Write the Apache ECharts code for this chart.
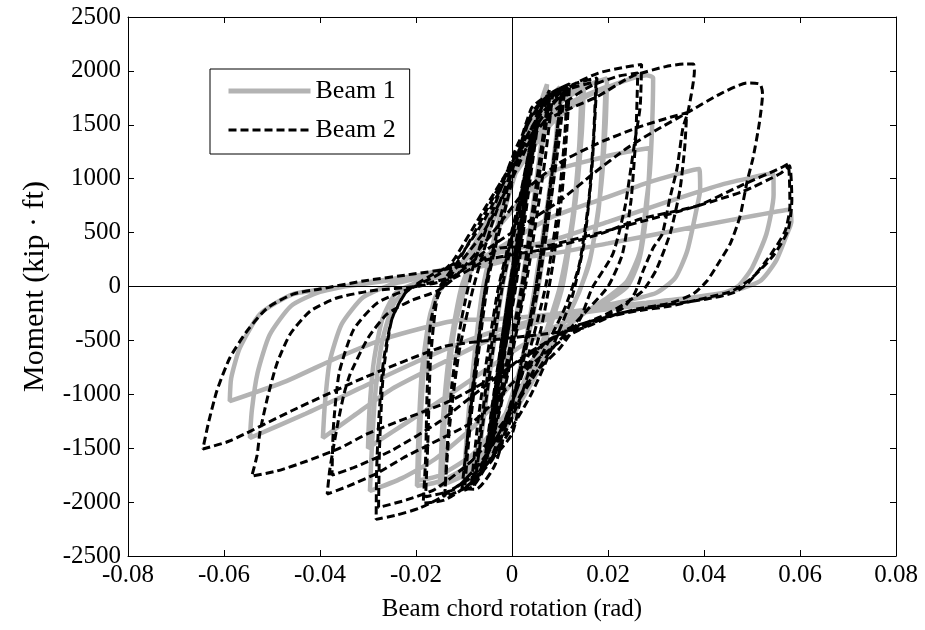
<!DOCTYPE html>
<html>
<head>
<meta charset="utf-8">
<script src="https://cdn.jsdelivr.net/npm/echarts@6/dist/echarts.min.js"></script>
<style>
html,body{margin:0;padding:0;background:#fff;}
#chart{width:925px;height:630px;}
</style>
</head>
<body>
<div id="chart"></div>
<script>
// ---------- tick values ----------
var xTicks = [-0.08, -0.06, -0.04, -0.02, 0, 0.02, 0.04, 0.06, 0.08];
var yTicks = [-2500, -2000, -1500, -1000, -500, 0, 500, 1000, 1500, 2000, 2500];
var seriesNames = ['Beam 1', 'Beam 2'];

// ---------- Beam 1 (rotation rad, moment kip-ft) ----------
var beam1Elastic = [[0,0],[0.0020,650],[0.0037,1150],[0.0022,700],[0.0000,0],[-0.0020,-650],[-0.0037,-1150],[-0.0022,-700],[0.0000,0],
  [0.0030,950],[0.0050,1450],[0.0033,950],[0.0005,0],[-0.0030,-950],[-0.0050,-1450],[-0.0033,-950],[-0.0005,0]];
var beam1Cycle0075 = [[0.0035,1100],[0.0060,1700],[0.0073,1875],[0.0060,1300],[0.0020,0],[-0.0020,-950],[-0.0050,-1550],[-0.0075,-1800],[-0.0060,-1250],[-0.0020,0],
  [0.0030,1000],[0.0060,1650],[0.0075,1820],[0.0060,1200],[0.0020,0],[-0.0020,-900],[-0.0055,-1550],[-0.0075,-1750],[-0.0060,-1150],[-0.0020,0]];
var beam1Cycle010 = [[0.0030,1000],[0.0070,1700],[0.0100,1850],[0.0090,1300],[0.0055,200],[0.0020,-700],[-0.0030,-1400],[-0.0080,-1780],[-0.0100,-1800],[-0.0090,-1200],[-0.0060,0],
  [-0.0010,900],[0.0050,1650],[0.0100,1820],[0.0090,1200],[0.0055,0],[0.0010,-900],[-0.0050,-1550],[-0.0100,-1780],[-0.0090,-1150],[-0.0060,0]];
var beam1Cycle015 = [[-0.0010,800],[0.0050,1600],[0.0100,1800],[0.0150,1880],[0.0145,1400],[0.0130,700],[0.0105,0],[0.0070,-500],[0.0020,-1050],[-0.0040,-1500],[-0.0100,-1750],[-0.0150,-1850],[-0.0145,-1300],[-0.0130,-600],[-0.0105,0],
  [-0.0060,500],[0.0000,1100],[0.0060,1600],[0.0145,1850],[0.0140,1300],[0.0125,600],[0.0100,0],[0.0060,-550],[0.0000,-1100],[-0.0070,-1600],[-0.0145,-1800],[-0.0140,-1200],[-0.0120,-400],[-0.0090,100]];
var beam1Cycle020 = [[-0.0050,500],[0.0020,1200],[0.0100,1700],[0.0160,1870],[0.0198,1930],[0.0195,1500],[0.0185,900],[0.0165,300],[0.0140,-50],[0.0100,-400],[0.0040,-900],[-0.0030,-1400],[-0.0100,-1700],[-0.0160,-1820],[-0.0198,-1850],[-0.0195,-1400],[-0.0188,-800],[-0.0170,-250],[-0.0140,50],
  [-0.0090,300],[-0.0030,800],[0.0050,1400],[0.0120,1700],[0.0195,1850],[0.0190,1300],[0.0180,700],[0.0160,200],[0.0130,-150],[0.0080,-550],[0.0000,-1100],[-0.0080,-1550],[-0.0150,-1750],[-0.0195,-1800],[-0.0190,-1200],[-0.0180,-600],[-0.0160,-100],[-0.0120,120]];
var beam1Cycle030 = [[-0.0070,450],[0.0000,1000],[0.0080,1500],[0.0150,1750],[0.0230,1900],[0.0280,1960],[0.0294,1934],[0.0292,1500],[0.0287,1050],[0.0280,793],[0.0267,329],[0.0240,50],[0.0200,-100],[0.0150,-250],[0.0080,-500],[0.0000,-900],[-0.0080,-1300],[-0.0160,-1600],[-0.0230,-1780],[-0.0296,-1897],[-0.0292,-1500],[-0.0285,-1000],[-0.0270,-500],[-0.0245,-150],[-0.0200,30],[-0.0130,120],
  [-0.0050,450],[0.0073,1043],[0.0183,1192],[0.0240,1250],[0.0288,1285],[0.0285,1000],[0.0278,600],[0.0265,250],[0.0240,0],[0.0180,-180],[0.0100,-350],[0.0020,-550],[-0.0080,-850],[-0.0180,-1150],[-0.0250,-1350],[-0.0300,-1500],[-0.0297,-1150],[-0.0288,-700],[-0.0270,-300],[-0.0240,-50],[-0.0180,60],[-0.0110,150]];
var beam1Cycle040 = [[-0.0030,350],[0.0079,636],[0.0180,800],[0.0280,960],[0.0350,1050],[0.0390,1090],[0.0392,900],[0.0385,728],[0.0365,329],[0.0340,80],[0.0300,-60],[0.0220,-150],[0.0120,-250],[0.0040,-350],[-0.0050,-500],[-0.0150,-720],[-0.0250,-950],[-0.0330,-1200],[-0.0394,-1405],[-0.0390,-1100],[-0.0380,-700],[-0.0355,-350],[-0.0310,-100],[-0.0250,20],[-0.0170,100],[-0.0100,180]];
var beam1Cycle050 = [[-0.0040,300],[0.0079,422],[0.0200,600],[0.0320,780],[0.0440,950],[0.0544,1052],[0.0545,850],[0.0530,487],[0.0500,172],[0.0470,0],[0.0420,-90],[0.0330,-150],[0.0220,-200],[0.0120,-260],[0.0030,-330],[-0.0080,-480],[-0.0200,-700],[-0.0320,-950],[-0.0430,-1180],[-0.0546,-1405],[-0.0542,-1150],[-0.0530,-800],[-0.0505,-450],[-0.0460,-180],[-0.0400,-50],[-0.0300,40],[-0.0200,100],[-0.0100,200]];
var beam1Cycle060 = [[0.0000,260],[0.0079,301],[0.0200,400],[0.0330,510],[0.0460,620],[0.0580,715],[0.0582,600],[0.0573,487],[0.0550,237],[0.0517,51],[0.0460,-42],[0.0380,-100],[0.0280,-150],[0.0180,-200],[0.0080,-260],[-0.0020,-300],[-0.0123,-320],[-0.0260,-477],[-0.0365,-663],[-0.0470,-877],[-0.0588,-1063],[-0.0585,-850],[-0.0567,-570],[-0.0525,-255],[-0.0456,-70],[-0.0350,0],[-0.0250,60],[-0.0150,120],[-0.0050,200],[0.0050,300]];

// ---------- Beam 2 ----------
var beam2Elastic = [[0,0],[0.0020,600],[0.0038,1150],[0.0025,750],[0.0000,-50],[-0.0020,-650],[-0.0036,-1150],[-0.0022,-700],[0.0000,50],
  [0.0025,750],[0.0040,1200],[0.0025,700],[0.0000,-100],[-0.0025,-800],[-0.0040,-1250],[-0.0025,-750],[0.0000,50],
  [0.0030,900],[0.0052,1500],[0.0035,1000],[0.0005,0],[-0.0030,-900],[-0.0050,-1450],[-0.0035,-950],[-0.0005,0],
  [0.0030,900],[0.0055,1550],[0.0038,1000],[0.0008,0],[-0.0030,-950],[-0.0055,-1550],[-0.0038,-1000],[-0.0005,0],
  [0.0022,800],[0.0048,1450],[0.0030,850],[0.0002,-100],[-0.0028,-1000],[-0.0052,-1600],[-0.0032,-1000],[-0.0008,-150]];
var beam2Cycle0075 = [[0.0035,1000],[0.0060,1650],[0.0078,1820],[0.0060,1250],[0.0020,0],[-0.0020,-900],[-0.0050,-1500],[-0.0078,-1850],[-0.0060,-1250],[-0.0020,0],
  [0.0020,800],[0.0055,1600],[0.0080,1800],[0.0062,1200],[0.0025,0],[-0.0015,-900],[-0.0050,-1550],[-0.0080,-1820],[-0.0062,-1200],[-0.0025,0],
  [0.0010,650],[0.0045,1450],[0.0072,1760],[0.0085,1790],[0.0068,1150],[0.0032,100],[-0.0008,-800],[-0.0042,-1450],[-0.0070,-1780],[-0.0085,-1850],[-0.0068,-1150],[-0.0030,-50]];
var beam2Cycle010 = [[0.0015,800],[0.0055,1650],[0.0080,1780],[0.0105,1850],[0.0090,1300],[0.0050,0],[0.0010,-900],[-0.0040,-1550],[-0.0080,-1850],[-0.0105,-1900],[-0.0090,-1300],[-0.0055,0],
  [-0.0010,900],[0.0040,1650],[0.0070,1760],[0.0110,1830],[0.0095,1250],[0.0055,0],[0.0010,-950],[-0.0040,-1600],[-0.0100,-1880],[-0.0090,-1250],[-0.0055,0],
  [-0.0015,700],[0.0030,1500],[0.0065,1720],[0.0090,1760],[0.0102,1800],[0.0088,1200],[0.0048,-50],[0.0005,-1000],[-0.0035,-1650],[-0.0075,-1880],[-0.0098,-1870],[-0.0085,-1200],[-0.0050,50]];
var beam2Cycle015 = [[-0.0010,800],[0.0040,1600],[0.0080,1790],[0.0120,1880],[0.0115,1500],[0.0105,900],[0.0085,200],[0.0060,-400],[0.0020,-1000],[-0.0030,-1500],[-0.0090,-1850],[-0.0140,-1950],[-0.0135,-1500],[-0.0125,-900],[-0.0105,-300],[-0.0080,200],
  [-0.0040,700],[0.0010,1300],[0.0060,1700],[0.0115,1860],[0.0110,1400],[0.0095,700],[0.0070,0],[0.0030,-700],[-0.0020,-1300],[-0.0080,-1750],[-0.0140,-1920],[-0.0130,-1300],[-0.0110,-600],[-0.0080,0]];
var beam2Cycle020 = [[-0.0040,600],[0.0020,1300],[0.0080,1750],[0.0130,1880],[0.0177,1934],[0.0172,1500],[0.0165,1000],[0.0150,400],[0.0125,-100],[0.0090,-500],[0.0040,-1000],[-0.0020,-1450],[-0.0080,-1800],[-0.0140,-1980],[-0.0185,-2010],[-0.0180,-1600],[-0.0177,-1000],[-0.0170,-350],[-0.0150,0],[-0.0110,250],
  [-0.0060,650],[0.0000,1150],[0.0060,1600],[0.0120,1830],[0.0175,1900],[0.0170,1400],[0.0160,800],[0.0140,200],[0.0110,-200],[0.0060,-650],[0.0000,-1150],[-0.0060,-1600],[-0.0120,-1880],[-0.0180,-1950],[-0.0175,-1400],[-0.0170,-700],[-0.0155,-100],[-0.0120,150]];
var beam2Cycle030 = [[-0.0060,500],[0.0000,1000],[0.0060,1550],[0.0120,1850],[0.0180,1980],[0.0230,2030],[0.0270,2060],[0.0267,1668],[0.0256,1350],[0.0246,1044],[0.0235,729],[0.0210,300],[0.0167,-14],[0.0142,-300],[0.0100,-570],[0.0058,-756],[0.0023,-969],[0.0000,-1368],[-0.0046,-1619],[-0.0108,-1832],[-0.0150,-1962],[-0.0192,-2055],[-0.0240,-2120],[-0.0283,-2160],[-0.0282,-1700],[-0.0277,-1200],[-0.0268,-700],[-0.0250,-300],[-0.0220,-50],[-0.0170,100],[-0.0120,220],
  [-0.0060,600],[0.0000,1100],[0.0080,1600],[0.0160,1850],[0.0220,1950],[0.0262,1980],[0.0258,1400],[0.0248,800],[0.0230,300],[0.0200,0],[0.0150,-250],[0.0080,-600],[0.0000,-1150],[-0.0080,-1600],[-0.0160,-1880],[-0.0220,-1980],[-0.0278,-2050],[-0.0276,-1500],[-0.0268,-800],[-0.0250,-300],[-0.0220,-50],[-0.0150,120],[-0.0123,237]];
var beam2Cycle040 = [[-0.0060,700],[0.0017,1257],[0.0058,1507],[0.0120,1650],[0.0177,1760],[0.0250,1950],[0.0320,2040],[0.0360,2064],[0.0378,2064],[0.0380,2000],[0.0367,1627],[0.0356,1470],[0.0344,1100],[0.0329,821],[0.0313,487],[0.0294,357],[0.0273,144],[0.0256,-60],[0.0231,-200],[0.0190,-292],[0.0120,-450],[0.0060,-650],[0.0000,-900],[-0.0080,-1250],[-0.0170,-1461],[-0.0227,-1591],[-0.0280,-1730],[-0.0340,-1850],[-0.0385,-1925],[-0.0380,-1712],[-0.0372,-1494],[-0.0362,-1248],[-0.0350,-997],[-0.0337,-811],[-0.0300,-478],[-0.0260,-255],[-0.0212,-134],[-0.0156,-42],[-0.0120,80],
  [-0.0040,500],[0.0030,900],[0.0100,1150],[0.0180,1330],[0.0265,1480],[0.0330,1570],[0.0364,1612],[0.0360,1300],[0.0350,900],[0.0330,500],[0.0300,150],[0.0270,-50],[0.0200,-250],[0.0120,-400],[0.0040,-600],[-0.0050,-900],[-0.0150,-1250],[-0.0250,-1520],[-0.0330,-1680],[-0.0375,-1750],[-0.0372,-1300],[-0.0360,-800],[-0.0330,-400],[-0.0280,-150],[-0.0200,0],[-0.0120,100]];
var beam2Cycle050 = [[-0.0050,350],[0.0020,560],[0.0101,800],[0.0170,1050],[0.0240,1285],[0.0300,1450],[0.0364,1609],[0.0433,1785],[0.0490,1888],[0.0517,1876],[0.0522,1785],[0.0515,1507],[0.0502,1190],[0.0490,978],[0.0475,650],[0.0455,400],[0.0433,237],[0.0406,51],[0.0377,-70],[0.0330,-153],[0.0260,-209],[0.0190,-292],[0.0120,-385],[0.0040,-620],[-0.0050,-870],[-0.0129,-1062],[-0.0219,-1220],[-0.0302,-1368],[-0.0358,-1498],[-0.0427,-1619],[-0.0490,-1712],[-0.0542,-1758],[-0.0531,-1563],[-0.0525,-1349],[-0.0510,-1043],[-0.0490,-718],[-0.0462,-440],[-0.0420,-227],[-0.0365,-107],[-0.0296,-42],[-0.0192,5],[-0.0120,80],[-0.0050,250]];
var beam2Cycle060 = [[0.0073,349],[0.0183,487],[0.0267,626],[0.0385,747],[0.0475,932],[0.0560,1100],[0.0575,1136],[0.0579,745],[0.0569,514],[0.0537,283],[0.0490,23],[0.0460,-60],[0.0406,-116],[0.0323,-170],[0.0219,-255],[0.0148,-385],[0.0050,-450],[-0.0050,-500],[-0.0144,-560],[-0.0310,-849],[-0.0460,-1155],[-0.0588,-1433],[-0.0644,-1507],[-0.0633,-1276],[-0.0615,-970],[-0.0588,-663],[-0.0552,-413],[-0.0510,-200],[-0.0456,-70],[-0.0400,-23],[-0.0310,51],[-0.0206,116],[-0.0135,162],[-0.0067,237],[-0.0025,357],[0.0073,380],
  [0.0200,520],[0.0350,700],[0.0480,880],[0.0560,1050],[0.0578,1120],[0.0583,800],[0.0575,520],[0.0545,290],[0.0500,80],[0.0460,-40],[0.0400,-110],[0.0330,-181],[0.0260,-227],[0.0190,-292],[0.0120,-413],[0.0073,-505],[0.0020,-800]];

var beam1 = [].concat(beam1Elastic, beam1Cycle0075, beam1Cycle010, beam1Cycle015, beam1Cycle020, beam1Cycle030, beam1Cycle040, beam1Cycle050, beam1Cycle060);
var beam2 = [].concat(beam2Elastic, beam2Cycle0075, beam2Cycle010, beam2Cycle015, beam2Cycle020, beam2Cycle030, beam2Cycle040, beam2Cycle050, beam2Cycle060);

var FONT = 'Liberation Serif';
var GRAY = '#b3b3b3';
var chart = echarts.init(document.getElementById('chart'), null, {renderer: 'canvas'});

function axisCommon(isX, show) {
  return {
    type: 'value',
    min: isX ? xTicks[0] : yTicks[0],
    max: isX ? xTicks[xTicks.length - 1] : yTicks[yTicks.length - 1],
    interval: isX ? (xTicks[1] - xTicks[0]) : (yTicks[1] - yTicks[0]),
    axisLine: {show: true, onZero: false, lineStyle: {color: '#000', width: 1}},
    axisTick: {show: true, inside: true, length: 6, lineStyle: {color: '#000', width: 1}},
    splitLine: {show: false},
    axisLabel: {show: show, color: '#000', fontFamily: FONT, fontSize: 25, margin: 7,
      formatter: function (v) { return isX ? String(+v.toFixed(2)) : String(Math.round(v)); }}
  };
}

var xBottom = axisCommon(true, true);
xBottom.position = 'bottom';
xBottom.name = 'Beam chord rotation (rad)';
xBottom.nameLocation = 'middle';
xBottom.nameGap = 41;
xBottom.nameTextStyle = {color: '#000', fontFamily: FONT, fontSize: 25};
var xTop = axisCommon(true, false);
xTop.position = 'top';
var yLeft = axisCommon(false, true);
yLeft.position = 'left';
yLeft.name = 'Moment (kip \u00b7 ft)';
yLeft.nameLocation = 'middle';
yLeft.nameGap = 78;
yLeft.nameTextStyle = {color: '#000', fontFamily: FONT, fontSize: 30};
var yRight = axisCommon(false, false);
yRight.position = 'right';

chart.setOption({
  animation: false,
  backgroundColor: '#fff',
  grid: {left: 128, right: 29, top: 17, bottom: 74, containLabel: false},
  xAxis: [xBottom, xTop],
  yAxis: [yLeft, yRight],
  legend: {
    data: [
      {name: seriesNames[0], lineStyle: {color: GRAY, width: 5, type: 'solid'}},
      {name: seriesNames[1], lineStyle: {color: '#000', width: 3, type: [8, 4]}}
    ],
    orient: 'vertical',
    left: 210, top: 69,
    itemWidth: 82, itemHeight: 24, itemGap: 13,
    padding: [9, 14, 11, 16],
    borderColor: '#000', borderWidth: 1, borderRadius: 0,
    backgroundColor: '#fff',
    itemStyle: {opacity: 0, borderWidth: 0},
    textStyle: {color: '#000', fontFamily: FONT, fontSize: 26}
  },
  series: [
    {
      name: seriesNames[0], type: 'line', data: beam1, xAxisIndex: 0, yAxisIndex: 0,
      showSymbol: false, symbol: 'none', smooth: 0.2,
      lineStyle: {color: GRAY, width: 4.5},
      itemStyle: {color: 'rgba(0,0,0,0)', borderWidth: 0},
      markLine: {
        silent: true, symbol: 'none', label: {show: false},
        lineStyle: {color: '#000', width: 1, type: 'solid'},
        data: [{xAxis: 0}, {yAxis: 0}]
      },
      z: 2
    },
    {
      name: seriesNames[1], type: 'line', data: beam2, xAxisIndex: 0, yAxisIndex: 0,
      showSymbol: false, symbol: 'none', smooth: 0.2,
      lineStyle: {color: '#000', width: 3, type: [8, 4]},
      itemStyle: {color: 'rgba(0,0,0,0)', borderWidth: 0},
      z: 3
    }
  ]
});
</script>
</body>
</html>
